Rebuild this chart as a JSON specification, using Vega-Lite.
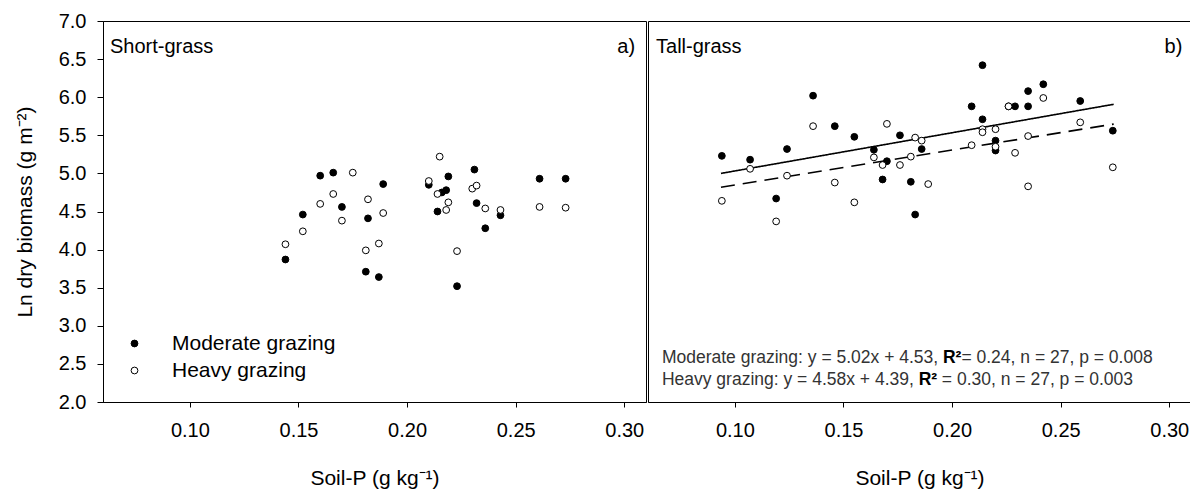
{
  "$schema": "https://vega.github.io/schema/vega-lite/v6.json",
  "padding": {"left": 13, "top": 10, "right": 0, "bottom": 0},
  "spacing": 0,
  "config": {
    "font": "Liberation Sans",
    "view": {"stroke": "black", "strokeWidth": 1},
    "axis": {"grid": false, "domainColor": "black", "tickColor": "black", "labelColor": "black", "titleColor": "black", "labelFont": "Liberation Sans", "titleFont": "Liberation Sans", "labelFontSize": 20, "titleFontSize": 21, "titleFontWeight": "normal", "labelOverlap": false, "labelFlush": false, "labelBound": false},
    "text": {"font": "Liberation Sans"}
  },
  "datasets": {
    "points": [
      {"site": "Short-grass", "grazing": "Moderate grazing", "soilP": 0.144, "lnBiomass": 3.87},
      {"site": "Short-grass", "grazing": "Moderate grazing", "soilP": 0.152, "lnBiomass": 4.46},
      {"site": "Short-grass", "grazing": "Moderate grazing", "soilP": 0.160, "lnBiomass": 4.97},
      {"site": "Short-grass", "grazing": "Moderate grazing", "soilP": 0.166, "lnBiomass": 5.01},
      {"site": "Short-grass", "grazing": "Moderate grazing", "soilP": 0.170, "lnBiomass": 4.56},
      {"site": "Short-grass", "grazing": "Moderate grazing", "soilP": 0.182, "lnBiomass": 4.41},
      {"site": "Short-grass", "grazing": "Moderate grazing", "soilP": 0.181, "lnBiomass": 3.71},
      {"site": "Short-grass", "grazing": "Moderate grazing", "soilP": 0.187, "lnBiomass": 3.64},
      {"site": "Short-grass", "grazing": "Moderate grazing", "soilP": 0.189, "lnBiomass": 4.86},
      {"site": "Short-grass", "grazing": "Moderate grazing", "soilP": 0.210, "lnBiomass": 4.85},
      {"site": "Short-grass", "grazing": "Moderate grazing", "soilP": 0.214, "lnBiomass": 4.50},
      {"site": "Short-grass", "grazing": "Moderate grazing", "soilP": 0.216, "lnBiomass": 4.75},
      {"site": "Short-grass", "grazing": "Moderate grazing", "soilP": 0.218, "lnBiomass": 4.78},
      {"site": "Short-grass", "grazing": "Moderate grazing", "soilP": 0.219, "lnBiomass": 4.96},
      {"site": "Short-grass", "grazing": "Moderate grazing", "soilP": 0.223, "lnBiomass": 3.52},
      {"site": "Short-grass", "grazing": "Moderate grazing", "soilP": 0.231, "lnBiomass": 5.05},
      {"site": "Short-grass", "grazing": "Moderate grazing", "soilP": 0.232, "lnBiomass": 4.61},
      {"site": "Short-grass", "grazing": "Moderate grazing", "soilP": 0.236, "lnBiomass": 4.28},
      {"site": "Short-grass", "grazing": "Moderate grazing", "soilP": 0.243, "lnBiomass": 4.45},
      {"site": "Short-grass", "grazing": "Moderate grazing", "soilP": 0.261, "lnBiomass": 4.93},
      {"site": "Short-grass", "grazing": "Moderate grazing", "soilP": 0.273, "lnBiomass": 4.93},
      {"site": "Short-grass", "grazing": "Heavy grazing", "soilP": 0.144, "lnBiomass": 4.07},
      {"site": "Short-grass", "grazing": "Heavy grazing", "soilP": 0.152, "lnBiomass": 4.24},
      {"site": "Short-grass", "grazing": "Heavy grazing", "soilP": 0.160, "lnBiomass": 4.60},
      {"site": "Short-grass", "grazing": "Heavy grazing", "soilP": 0.166, "lnBiomass": 4.73},
      {"site": "Short-grass", "grazing": "Heavy grazing", "soilP": 0.170, "lnBiomass": 4.38},
      {"site": "Short-grass", "grazing": "Heavy grazing", "soilP": 0.175, "lnBiomass": 5.01},
      {"site": "Short-grass", "grazing": "Heavy grazing", "soilP": 0.182, "lnBiomass": 4.66},
      {"site": "Short-grass", "grazing": "Heavy grazing", "soilP": 0.181, "lnBiomass": 3.99},
      {"site": "Short-grass", "grazing": "Heavy grazing", "soilP": 0.187, "lnBiomass": 4.08},
      {"site": "Short-grass", "grazing": "Heavy grazing", "soilP": 0.189, "lnBiomass": 4.48},
      {"site": "Short-grass", "grazing": "Heavy grazing", "soilP": 0.210, "lnBiomass": 4.90},
      {"site": "Short-grass", "grazing": "Heavy grazing", "soilP": 0.214, "lnBiomass": 4.73},
      {"site": "Short-grass", "grazing": "Heavy grazing", "soilP": 0.215, "lnBiomass": 5.22},
      {"site": "Short-grass", "grazing": "Heavy grazing", "soilP": 0.218, "lnBiomass": 4.52},
      {"site": "Short-grass", "grazing": "Heavy grazing", "soilP": 0.219, "lnBiomass": 4.62},
      {"site": "Short-grass", "grazing": "Heavy grazing", "soilP": 0.223, "lnBiomass": 3.98},
      {"site": "Short-grass", "grazing": "Heavy grazing", "soilP": 0.230, "lnBiomass": 4.80},
      {"site": "Short-grass", "grazing": "Heavy grazing", "soilP": 0.232, "lnBiomass": 4.84},
      {"site": "Short-grass", "grazing": "Heavy grazing", "soilP": 0.236, "lnBiomass": 4.54},
      {"site": "Short-grass", "grazing": "Heavy grazing", "soilP": 0.243, "lnBiomass": 4.52},
      {"site": "Short-grass", "grazing": "Heavy grazing", "soilP": 0.261, "lnBiomass": 4.56},
      {"site": "Short-grass", "grazing": "Heavy grazing", "soilP": 0.273, "lnBiomass": 4.55},
      {"site": "Tall-grass", "grazing": "Moderate grazing", "soilP": 0.094, "lnBiomass": 5.23},
      {"site": "Tall-grass", "grazing": "Moderate grazing", "soilP": 0.107, "lnBiomass": 5.18},
      {"site": "Tall-grass", "grazing": "Moderate grazing", "soilP": 0.119, "lnBiomass": 4.67},
      {"site": "Tall-grass", "grazing": "Moderate grazing", "soilP": 0.124, "lnBiomass": 5.32},
      {"site": "Tall-grass", "grazing": "Moderate grazing", "soilP": 0.136, "lnBiomass": 6.02},
      {"site": "Tall-grass", "grazing": "Moderate grazing", "soilP": 0.146, "lnBiomass": 5.62},
      {"site": "Tall-grass", "grazing": "Moderate grazing", "soilP": 0.155, "lnBiomass": 5.48},
      {"site": "Tall-grass", "grazing": "Moderate grazing", "soilP": 0.164, "lnBiomass": 5.31},
      {"site": "Tall-grass", "grazing": "Moderate grazing", "soilP": 0.168, "lnBiomass": 4.92},
      {"site": "Tall-grass", "grazing": "Moderate grazing", "soilP": 0.170, "lnBiomass": 5.16},
      {"site": "Tall-grass", "grazing": "Moderate grazing", "soilP": 0.176, "lnBiomass": 5.50},
      {"site": "Tall-grass", "grazing": "Moderate grazing", "soilP": 0.181, "lnBiomass": 4.89},
      {"site": "Tall-grass", "grazing": "Moderate grazing", "soilP": 0.183, "lnBiomass": 4.46},
      {"site": "Tall-grass", "grazing": "Moderate grazing", "soilP": 0.186, "lnBiomass": 5.32},
      {"site": "Tall-grass", "grazing": "Moderate grazing", "soilP": 0.209, "lnBiomass": 5.88},
      {"site": "Tall-grass", "grazing": "Moderate grazing", "soilP": 0.214, "lnBiomass": 6.42},
      {"site": "Tall-grass", "grazing": "Moderate grazing", "soilP": 0.214, "lnBiomass": 5.71},
      {"site": "Tall-grass", "grazing": "Moderate grazing", "soilP": 0.220, "lnBiomass": 5.43},
      {"site": "Tall-grass", "grazing": "Moderate grazing", "soilP": 0.220, "lnBiomass": 5.30},
      {"site": "Tall-grass", "grazing": "Moderate grazing", "soilP": 0.226, "lnBiomass": 5.88},
      {"site": "Tall-grass", "grazing": "Moderate grazing", "soilP": 0.229, "lnBiomass": 5.88},
      {"site": "Tall-grass", "grazing": "Moderate grazing", "soilP": 0.235, "lnBiomass": 6.08},
      {"site": "Tall-grass", "grazing": "Moderate grazing", "soilP": 0.235, "lnBiomass": 5.88},
      {"site": "Tall-grass", "grazing": "Moderate grazing", "soilP": 0.242, "lnBiomass": 6.17},
      {"site": "Tall-grass", "grazing": "Moderate grazing", "soilP": 0.259, "lnBiomass": 5.95},
      {"site": "Tall-grass", "grazing": "Moderate grazing", "soilP": 0.274, "lnBiomass": 5.56},
      {"site": "Tall-grass", "grazing": "Heavy grazing", "soilP": 0.094, "lnBiomass": 4.64},
      {"site": "Tall-grass", "grazing": "Heavy grazing", "soilP": 0.107, "lnBiomass": 5.06},
      {"site": "Tall-grass", "grazing": "Heavy grazing", "soilP": 0.119, "lnBiomass": 4.37},
      {"site": "Tall-grass", "grazing": "Heavy grazing", "soilP": 0.124, "lnBiomass": 4.97},
      {"site": "Tall-grass", "grazing": "Heavy grazing", "soilP": 0.136, "lnBiomass": 5.62},
      {"site": "Tall-grass", "grazing": "Heavy grazing", "soilP": 0.146, "lnBiomass": 4.88},
      {"site": "Tall-grass", "grazing": "Heavy grazing", "soilP": 0.155, "lnBiomass": 4.62},
      {"site": "Tall-grass", "grazing": "Heavy grazing", "soilP": 0.164, "lnBiomass": 5.21},
      {"site": "Tall-grass", "grazing": "Heavy grazing", "soilP": 0.168, "lnBiomass": 5.11},
      {"site": "Tall-grass", "grazing": "Heavy grazing", "soilP": 0.170, "lnBiomass": 5.65},
      {"site": "Tall-grass", "grazing": "Heavy grazing", "soilP": 0.176, "lnBiomass": 5.11},
      {"site": "Tall-grass", "grazing": "Heavy grazing", "soilP": 0.181, "lnBiomass": 5.22},
      {"site": "Tall-grass", "grazing": "Heavy grazing", "soilP": 0.183, "lnBiomass": 5.47},
      {"site": "Tall-grass", "grazing": "Heavy grazing", "soilP": 0.186, "lnBiomass": 5.43},
      {"site": "Tall-grass", "grazing": "Heavy grazing", "soilP": 0.189, "lnBiomass": 4.86},
      {"site": "Tall-grass", "grazing": "Heavy grazing", "soilP": 0.209, "lnBiomass": 5.37},
      {"site": "Tall-grass", "grazing": "Heavy grazing", "soilP": 0.214, "lnBiomass": 5.58},
      {"site": "Tall-grass", "grazing": "Heavy grazing", "soilP": 0.214, "lnBiomass": 5.54},
      {"site": "Tall-grass", "grazing": "Heavy grazing", "soilP": 0.220, "lnBiomass": 5.58},
      {"site": "Tall-grass", "grazing": "Heavy grazing", "soilP": 0.220, "lnBiomass": 5.35},
      {"site": "Tall-grass", "grazing": "Heavy grazing", "soilP": 0.226, "lnBiomass": 5.88},
      {"site": "Tall-grass", "grazing": "Heavy grazing", "soilP": 0.229, "lnBiomass": 5.27},
      {"site": "Tall-grass", "grazing": "Heavy grazing", "soilP": 0.235, "lnBiomass": 5.49},
      {"site": "Tall-grass", "grazing": "Heavy grazing", "soilP": 0.235, "lnBiomass": 4.83},
      {"site": "Tall-grass", "grazing": "Heavy grazing", "soilP": 0.242, "lnBiomass": 5.99},
      {"site": "Tall-grass", "grazing": "Heavy grazing", "soilP": 0.259, "lnBiomass": 5.67},
      {"site": "Tall-grass", "grazing": "Heavy grazing", "soilP": 0.274, "lnBiomass": 5.08}
    ],
    "fits": [
      {"fitLine": "Moderate", "soilP": 0.0936, "lnBiomass": 5.000},
      {"fitLine": "Moderate", "soilP": 0.2744, "lnBiomass": 5.907},
      {"fitLine": "Heavy", "soilP": 0.0936, "lnBiomass": 4.819},
      {"fitLine": "Heavy", "soilP": 0.2744, "lnBiomass": 5.647}
    ],
    "panelTitles": [
      {"site": "Short-grass", "label": "Short-grass", "soilP": 0.0632, "lnBiomass": 6.66},
      {"site": "Tall-grass", "label": "Tall-grass", "soilP": 0.0637, "lnBiomass": 6.66}
    ],
    "panelLetters": [
      {"site": "Short-grass", "label": "a)", "soilP": 0.305, "lnBiomass": 6.66},
      {"site": "Tall-grass", "label": "b)", "soilP": 0.306, "lnBiomass": 6.66}
    ],
    "statsPlain": [
      {"label": "Moderate grazing: y = 5.02x + 4.53,", "soilP": 0.0664, "lnBiomass": 2.58},
      {"label": "= 0.24, n = 27, p = 0.008", "soilP": 0.2043, "lnBiomass": 2.58},
      {"label": "Heavy grazing: y = 4.58x + 4.39,", "soilP": 0.0664, "lnBiomass": 2.29},
      {"label": "= 0.30, n = 27, p = 0.003", "soilP": 0.1953, "lnBiomass": 2.29}
    ],
    "statsBold": [
      {"label": "R²", "soilP": 0.1958, "lnBiomass": 2.58},
      {"label": "R²", "soilP": 0.1846, "lnBiomass": 2.29}
    ]
  },
  "hconcat": [
    {
      "width": 543,
      "height": 381,
      "layer": [
        {
          "data": {"name": "points"},
          "transform": [{"filter": "datum.site === 'Short-grass'"}],
          "mark": {"type": "circle", "size": 46, "stroke": "black", "strokeWidth": 1, "opacity": 1},
          "encoding": {
            "x": {"field": "soilP", "type": "quantitative", "scale": {"domain": [0.06, 0.31], "nice": false, "zero": false}, "axis": {"title": "Soil-P (g kg⁻¹)", "values": [0.1, 0.15, 0.2, 0.25, 0.3], "format": ".2f", "tickSize": 5, "labelPadding": 13, "titlePadding": 27, "labelOverlap": false}},
            "y": {"field": "lnBiomass", "type": "quantitative", "scale": {"domain": [2, 7], "nice": false, "zero": false}, "axis": {"title": "Ln dry biomass (g m⁻²)", "tickCount": 11, "format": ".1f", "tickSize": 6, "labelPadding": 11, "titlePadding": 23, "labelOverlap": false, "labelSeparation": 0, "labelExpr": "format(datum.value, '.1f')"}},
            "fill": {"field": "grazing", "type": "nominal", "scale": {"domain": ["Moderate grazing", "Heavy grazing"], "range": ["black", "white"]},
              "legend": {"orient": "none", "legendX": 21, "legendY": 312, "title": null, "padding": 0, "labelFontSize": 21, "labelFont": "Liberation Sans", "labelColor": "black", "labelLimit": 400, "symbolType": "circle", "symbolSize": 46, "symbolStrokeColor": "black", "symbolStrokeWidth": 1, "rowPadding": 5, "labelOffset": 27}}
          }
        },
        {
          "data": {"name": "panelTitles"},
          "transform": [{"filter": "datum.site === 'Short-grass'"}],
          "mark": {"type": "text", "align": "left", "baseline": "middle", "fontSize": 20, "color": "black"},
          "encoding": {
            "x": {"field": "soilP", "type": "quantitative"},
            "y": {"field": "lnBiomass", "type": "quantitative"},
            "text": {"field": "label"}
          }
        },
        {
          "data": {"name": "panelLetters"},
          "transform": [{"filter": "datum.site === 'Short-grass'"}],
          "mark": {"type": "text", "align": "right", "baseline": "middle", "fontSize": 20, "color": "black"},
          "encoding": {
            "x": {"field": "soilP", "type": "quantitative"},
            "y": {"field": "lnBiomass", "type": "quantitative"},
            "text": {"field": "label"}
          }
        }
      ]
    },
    {
      "width": 543,
      "height": 381,
      "layer": [
        {
          "data": {"name": "fits"},
          "mark": {"type": "line", "color": "black", "strokeWidth": 1.6},
          "encoding": {
            "x": {"field": "soilP", "type": "quantitative", "scale": {"domain": [0.06, 0.31], "nice": false, "zero": false}, "axis": {"title": "Soil-P (g kg⁻¹)", "values": [0.1, 0.15, 0.2, 0.25, 0.3], "format": ".2f", "tickSize": 5, "labelPadding": 13, "titlePadding": 27, "labelOverlap": false}},
            "y": {"field": "lnBiomass", "type": "quantitative", "scale": {"domain": [2, 7], "nice": false, "zero": false}, "axis": null},
            "detail": {"field": "fitLine"},
            "strokeDash": {"field": "fitLine", "type": "nominal", "scale": {"domain": ["Moderate", "Heavy"], "range": [[1, 0], [14, 8]]}, "legend": null}
          }
        },
        {
          "data": {"name": "points"},
          "transform": [{"filter": "datum.site === 'Tall-grass'"}],
          "mark": {"type": "circle", "size": 46, "stroke": "black", "strokeWidth": 1, "opacity": 1},
          "encoding": {
            "x": {"field": "soilP", "type": "quantitative"},
            "y": {"field": "lnBiomass", "type": "quantitative"},
            "fill": {"field": "grazing", "type": "nominal", "scale": {"domain": ["Moderate grazing", "Heavy grazing"], "range": ["black", "white"]}, "legend": null}
          }
        },
        {
          "data": {"name": "panelTitles"},
          "transform": [{"filter": "datum.site === 'Tall-grass'"}],
          "mark": {"type": "text", "align": "left", "baseline": "middle", "fontSize": 20, "color": "black"},
          "encoding": {
            "x": {"field": "soilP", "type": "quantitative"},
            "y": {"field": "lnBiomass", "type": "quantitative"},
            "text": {"field": "label"}
          }
        },
        {
          "data": {"name": "panelLetters"},
          "transform": [{"filter": "datum.site === 'Tall-grass'"}],
          "mark": {"type": "text", "align": "right", "baseline": "middle", "fontSize": 20, "color": "black"},
          "encoding": {
            "x": {"field": "soilP", "type": "quantitative"},
            "y": {"field": "lnBiomass", "type": "quantitative"},
            "text": {"field": "label"}
          }
        },
        {
          "data": {"name": "statsPlain"},
          "mark": {"type": "text", "align": "left", "baseline": "middle", "fontSize": 17.5, "color": "#333333"},
          "encoding": {
            "x": {"field": "soilP", "type": "quantitative"},
            "y": {"field": "lnBiomass", "type": "quantitative"},
            "text": {"field": "label"}
          }
        },
        {
          "data": {"name": "statsBold"},
          "mark": {"type": "text", "align": "left", "baseline": "middle", "fontSize": 17.5, "fontWeight": "bold", "color": "black"},
          "encoding": {
            "x": {"field": "soilP", "type": "quantitative"},
            "y": {"field": "lnBiomass", "type": "quantitative"},
            "text": {"field": "label"}
          }
        }
      ]
    }
  ]
}
